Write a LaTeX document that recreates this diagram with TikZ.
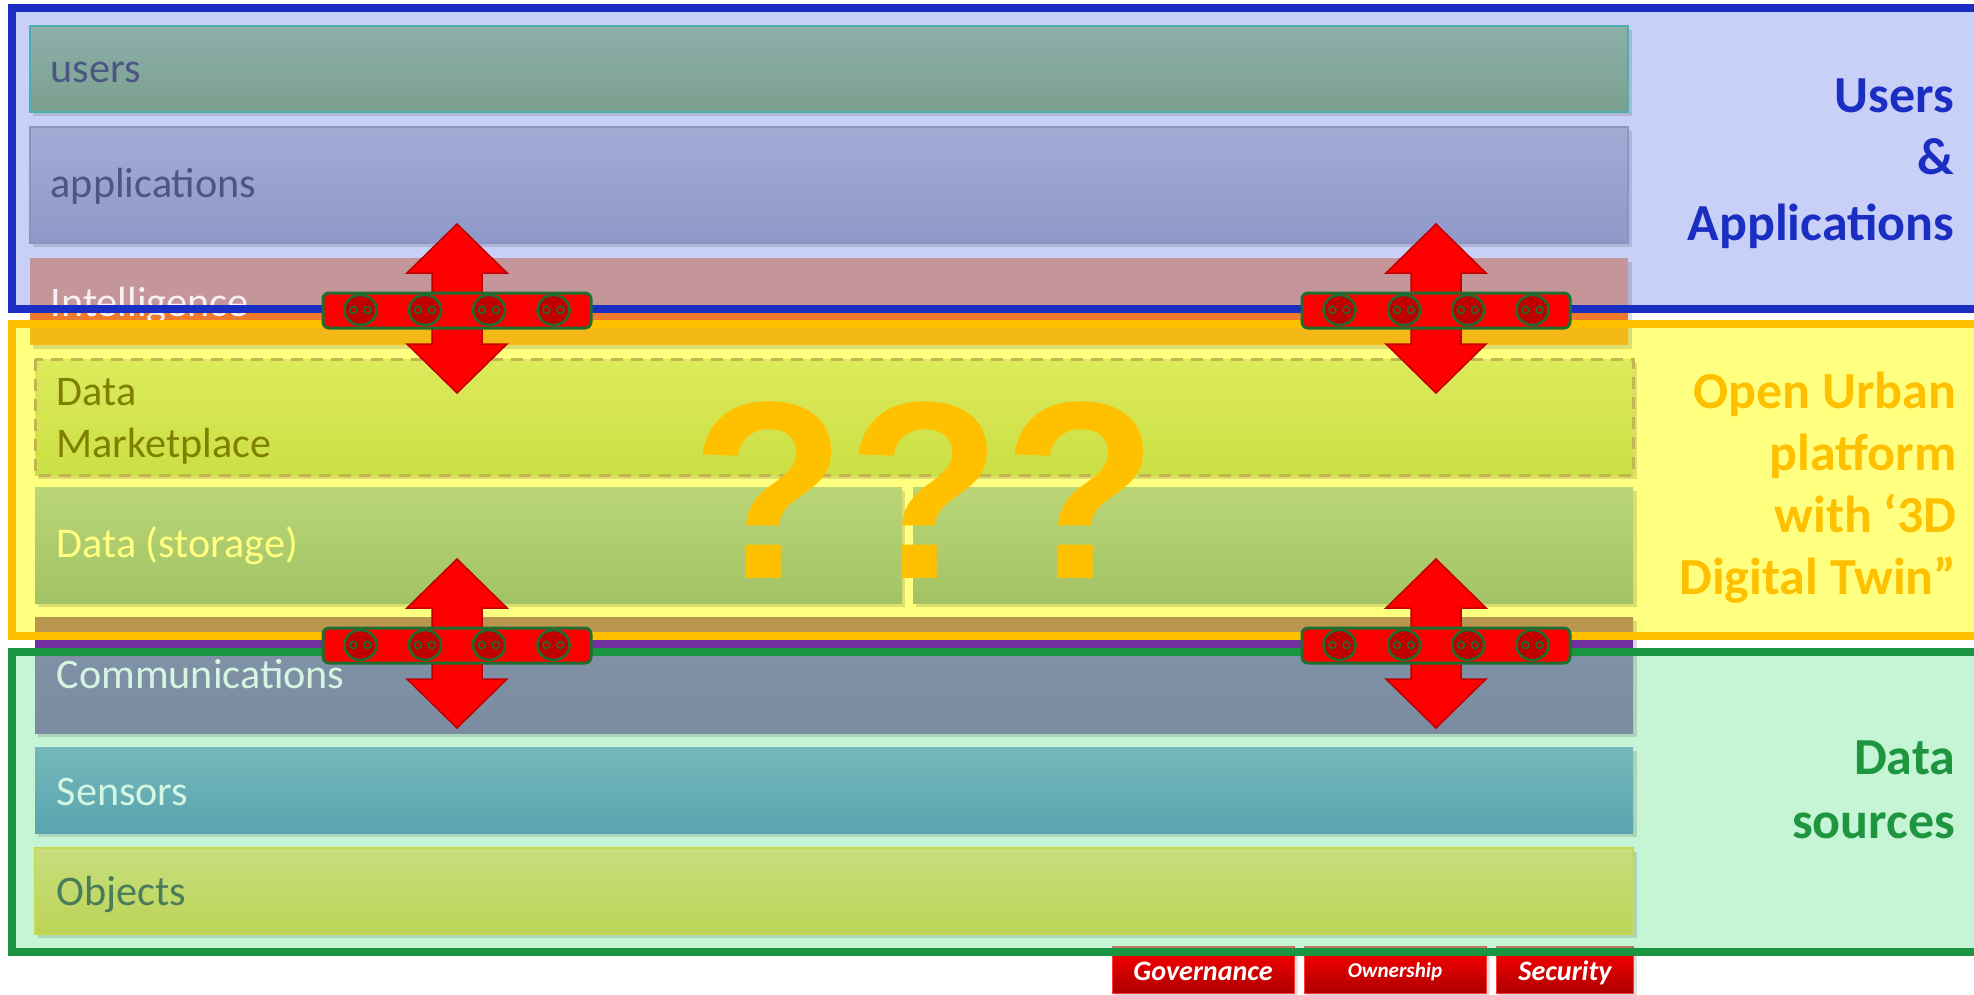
\documentclass[tikz,border=0pt]{standalone}
\usepackage{fontspec}
\setmainfont{Carlito}
\newfontfamily\qmfont{Liberation Sans}

\definecolor{bluefill}{HTML}{C9D0F8}
\definecolor{blueline}{HTML}{1A2EC2}
\definecolor{yellowfill}{HTML}{FFFF80}
\definecolor{yellowline}{HTML}{FFC000}
\definecolor{greenfill}{HTML}{C6F5D6}
\definecolor{greenline}{HTML}{1B953F}
\definecolor{usrtop}{HTML}{8CB0AA}
\definecolor{usrbot}{HTML}{7B9F8E}
\definecolor{usredge}{HTML}{4CB0AE}
\definecolor{apptop}{HTML}{A4ABD5}
\definecolor{appbot}{HTML}{8F98C7}
\definecolor{appedge}{HTML}{8C94C4}
\definecolor{intpink}{HTML}{C49599}
\definecolor{intorange}{HTML}{F07A2C}
\definecolor{intgold}{HTML}{F4B916}
\definecolor{mkttop}{HTML}{DDEA5C}
\definecolor{mktbot}{HTML}{CBE043}
\definecolor{mktedge}{HTML}{C5B550}
\definecolor{stortop}{HTML}{BAD677}
\definecolor{storbot}{HTML}{A2C365}
\definecolor{comtop}{HTML}{8294A9}
\definecolor{combot}{HTML}{7B8CA1}
\definecolor{combrown}{HTML}{B8964F}
\definecolor{compurple}{HTML}{7030A0}
\definecolor{sentop}{HTML}{74B8BA}
\definecolor{senbot}{HTML}{5AA4B0}
\definecolor{objtop}{HTML}{C8DE80}
\definecolor{objbot}{HTML}{BBD455}
\definecolor{objedge}{HTML}{CAD850}
\definecolor{tabtop}{HTML}{FF0000}
\definecolor{tabbot}{HTML}{AE0000}
\definecolor{tabedge}{HTML}{FF3A3A}
\definecolor{tabbrown}{HTML}{C07A62}
\definecolor{arrowred}{HTML}{FF0000}
\definecolor{arrowdark}{HTML}{C00000}
\definecolor{socketred}{HTML}{C00000}
\definecolor{socketgreen}{HTML}{1F6E30}
\definecolor{qgold}{HTML}{FFC000}
\definecolor{usrtxt}{HTML}{4B5683}
\definecolor{inttxt}{HTML}{F8F0F4}
\definecolor{mkttxt}{HTML}{7F7F00}
\definecolor{stortxt}{HTML}{FFFF80}
\definecolor{comtxt}{HTML}{D3F5E2}
\definecolor{objtxt}{HTML}{4A7B5B}
\definecolor{bluetitle}{HTML}{1A2FC2}
\definecolor{greentitle}{HTML}{1E9640}

\begin{document}
\begin{tikzpicture}[x=0.1mm,y=-0.1mm,
    barlbl/.style={anchor=base west, inner sep=0pt, font=\fontsize{12}{14}\selectfont},
    sidelbl/.style={anchor=base east, inner sep=0pt, font=\bfseries\fontsize{14.8}{18}\selectfont},
    tablbl/.style={anchor=base, inner sep=0pt, text=white, font=\bfseries\itshape\fontsize{#1}{10}\selectfont},
    qmark/.style={anchor=base, inner sep=0pt, text=qgold, font=\qmfont\bfseries\fontsize{72}{80}\selectfont},
    shadowbox/.style={fill=black, opacity=0.13},
    tabbox/.style={top color=tabtop, bottom color=tabbot, draw=tabedge, line width=0.1mm},
    redarrow/.style={fill=arrowred, draw=arrowdark, line width=0.15mm},
    socketbar/.style={fill=arrowred, draw=socketgreen, line width=0.3mm, rounded corners=0.6mm},
    socket/.style={fill=socketred, draw=socketgreen, line width=0.25mm},
    sockethole/.style={fill=socketred, draw=socketgreen, line width=0.15mm},
    frameline/.style={line width=0.8mm}
  ]
  \useasboundingbox (0,0) rectangle (1974,995);
  \clip (0,0) rectangle (1974,995);

  % frames
  \fill[bluefill] (12,8) rectangle (2000,309);
  \fill[yellowfill] (12,324) rectangle (2000,636);
  \fill[greenfill] (12,652) rectangle (2000,952);

  % layers
  \fill[shadowbox] (33,30) rectangle (1632,116);
  \shadedraw[top color=usrtop, bottom color=usrbot, draw=usredge, line width=0.15mm] (30,26) rectangle (1628,112);
  \fill[shadowbox] (33,131) rectangle (1632,247);
  \shadedraw[top color=apptop, bottom color=appbot, draw=appedge, line width=0.15mm] (30,127) rectangle (1628,243);
  \fill[shadowbox] (33,262) rectangle (1632,349);
  \fill[intpink] (30,258) rectangle (1628,309);
  \fill[intorange] (30,309) rectangle (1628,324);
  \fill[intgold] (30,324) rectangle (1628,345);

  \fill[shadowbox] (38,363) rectangle (1637,479);
  \shade[top color=mkttop, bottom color=mktbot] (35,359) rectangle (1633,475);
  \draw[mktedge, line width=0.3mm, dash pattern=on 1.2mm off 0.8mm] (35,359) rectangle (1633,475);
  \fill[shadowbox] (38,491) rectangle (905,607);
  \fill[shadowbox] (916,491) rectangle (1637,607);
  \shade[top color=stortop, bottom color=storbot] (35,487) rectangle (902,603);
  \shade[top color=stortop, bottom color=storbot] (913,487) rectangle (1633,603);

  \fill[shadowbox] (38,621) rectangle (1637,737);
  \shade[top color=comtop, bottom color=combot] (35,617) rectangle (1633,733);
  \fill[combrown] (35,617) rectangle (1633,636);
  \fill[compurple] (35,636) rectangle (1633,652);
  \fill[shadowbox] (38,751) rectangle (1637,837);
  \shade[top color=sentop, bottom color=senbot] (35,747) rectangle (1633,833);
  \fill[shadowbox] (38,852) rectangle (1637,938);
  \shadedraw[top color=objtop, bottom color=objbot, draw=objedge, line width=0.15mm] (35,848) rectangle (1633,934);

  % governance tabs
  \fill[shadowbox] (1115,949) rectangle (1298,997);
  \fill[shadowbox] (1307,949) rectangle (1490,997);
  \fill[shadowbox] (1499,949) rectangle (1637,997);
  \shadedraw[tabbox] (1112,946) rectangle (1294,993);
  \shadedraw[tabbox] (1304,946) rectangle (1486,993);
  \shadedraw[tabbox] (1496,946) rectangle (1633,993);
  \fill[tabbrown] (1112,946) rectangle (1294,952);
  \fill[tabbrown] (1304,946) rectangle (1486,952);
  \fill[tabbrown] (1496,946) rectangle (1633,952);
  \node[tablbl=8] (tabgov) at (1203,980) {Governance};
  \node[tablbl=6] (tabown) at (1395,977) {Ownership};
  \node[tablbl=8] (tabsec) at (1565,980) {Security};

  % layer names
  \node[barlbl, text=usrtxt] (lblusers) at (50,83) {users};
  \node[barlbl, text=usrtxt] (lblapps) at (50,198) {applications};
  \node[barlbl, text=inttxt] (lblintel) at (50,317) {Intelligence};
  \node[barlbl, text=mkttxt] (lbldata) at (56,405) {Data};
  \node[barlbl, text=mkttxt] (lblmarket) at (56,457) {Marketplace};
  \node[barlbl, text=stortxt] (lblstorage) at (56,557) {Data (storage)};
  \node[barlbl, text=comtxt] (lblcomm) at (56,688) {Communications};
  \node[barlbl, text=comtxt] (lblsensors) at (56,805) {Sensors};
  \node[barlbl, text=objtxt] (lblobjects) at (56,905) {Objects};

  \draw[blueline, frameline] (2000,8) -- (12,8) -- (12,309) -- (2000,309);
  \draw[yellowline, frameline] (2000,324) -- (12,324) -- (12,636) -- (2000,636);
  \draw[greenline, frameline] (2000,652) -- (12,652) -- (12,952) -- (2000,952);

  % side titles
  \node[sidelbl, text=bluetitle] (ttlusers) at (1955,112) {Users};
  \node[sidelbl, text=bluetitle] (ttlamp) at (1955,175) {\&};
  \node[sidelbl, text=bluetitle] (ttlapps) at (1955,240) {Applications};

  \node[sidelbl, text=qgold] (ttlopen) at (1957,408) {Open Urban};
  \node[sidelbl, text=qgold] (ttlplatform) at (1957,470) {platform};
  \node[sidelbl, text=qgold] (ttlwith) at (1957,532) {with ‘3D};
  \node[sidelbl, text=qgold] (ttldigital) at (1957,594) {Digital Twin”};

  \node[sidelbl, text=greentitle] (ttldata) at (1956,774) {Data};
  \node[sidelbl, text=greentitle] (ttlsources) at (1956,838) {sources};

  % question marks
  \foreach \qx [count=\i] in {769,925,1081}
    \node[qmark] (q\i) at (\qx,578) {?};

  % connectors with sockets
  \foreach \cx/\cy in {457/308.5, 1436/308.5, 457/643.5, 1436/643.5}{
    \begin{scope}[shift={(\cx,\cy)}]
      \draw[redarrow] (0,-84.5) -- (50,-35.5) -- (25,-35.5) -- (25,35.5) -- (50,35.5) -- (0,84.5)
        -- (-50,35.5) -- (-25,35.5) -- (-25,-35.5) -- (-50,-35.5) -- cycle;
      \draw[socketbar] (-134,-15.5) rectangle (134,19.5);
      \foreach \sx in {-96.5,-32,32,96.5}{
        \draw[socket] (\sx,1.5) ellipse [x radius=1.6mm, y radius=1.5mm];
        \draw[sockethole] (\sx-7,1.5) circle [radius=0.35mm];
        \draw[sockethole] (\sx+7,1.5) circle [radius=0.35mm];
      }
    \end{scope}
  }
\end{tikzpicture}
\end{document}
